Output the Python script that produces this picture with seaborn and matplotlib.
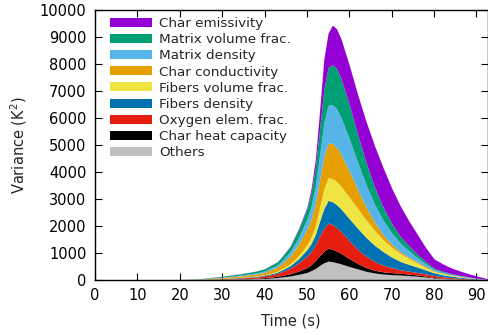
import numpy as np
import pandas as pd
import matplotlib
matplotlib.use("Agg")
import matplotlib.pyplot as plt
import seaborn as sns

# Time grid (s)
time = [0, 20, 25, 30, 35, 38, 40, 43, 44, 46, 48, 50, 51, 52, 53, 54, 55, 56,
        57, 58, 60, 62, 64, 66, 68, 70, 72, 74, 76, 78, 80, 82, 84, 86, 88, 90, 92.6]

# Individual contributions to the variance (K^2), bottom to top
others = [0, 5, 10, 25, 40, 50, 60, 90, 110, 150, 210, 280, 350, 430, 540, 640, 700, 680,
          640, 600, 500, 410, 320, 260, 220, 200, 185, 165, 140, 110, 75, 55, 40, 30, 20, 12, 4]
char_heat_capacity = [0, 1, 2, 6, 12, 18, 25, 45, 55, 80, 120, 180, 220, 290, 370, 430, 480, 460,
                      430, 390, 290, 200, 140, 100, 80, 70, 65, 55, 45, 32, 20, 14, 10, 7, 5, 3, 1]
oxygen_elem_frac = [0, 2, 5, 15, 30, 45, 60, 110, 140, 200, 300, 420, 480, 580, 720, 850, 930, 910,
                    870, 810, 660, 520, 410, 320, 250, 180, 130, 110, 95, 85, 70, 50, 38, 28, 18, 10, 3]
fibers_density = [0, 2, 5, 10, 18, 24, 30, 50, 65, 100, 160, 250, 310, 400, 560, 740, 840, 850,
                  850, 840, 820, 780, 700, 600, 500, 400, 310, 250, 200, 150, 100, 75, 55, 40, 28, 16, 5]
fibers_volume_frac = [0, 1, 2, 5, 10, 15, 20, 35, 45, 70, 110, 180, 240, 340, 520, 720, 840, 860,
                      860, 840, 800, 730, 650, 550, 440, 360, 300, 220, 150, 90, 50, 38, 28, 20, 13, 8, 2]
char_conductivity = [0, 4, 12, 30, 55, 70, 90, 150, 190, 280, 420, 580, 670, 800, 1000, 1200, 1280, 1300,
                     1260, 1180, 960, 700, 470, 300, 180, 110, 65, 50, 40, 35, 30, 22, 15, 11, 8, 5, 2]
matrix_density = [0, 2, 6, 15, 30, 40, 50, 80, 100, 160, 250, 370, 480, 650, 950, 1250, 1400, 1440,
                  1430, 1370, 1200, 1000, 820, 660, 540, 420, 320, 240, 160, 100, 50, 38, 27, 20, 13, 8, 2]
matrix_volume_frac = [0, 3, 10, 30, 50, 65, 80, 110, 135, 190, 290, 380, 510, 680, 950, 1260, 1400, 1480,
                      1500, 1450, 1270, 1030, 820, 640, 480, 360, 250, 190, 130, 85, 45, 35, 27, 20, 13, 8, 2]
char_emissivity = [0, 0, 2, 4, 5, 5, 5, 10, 10, 20, 40, 60, 140, 330, 690, 1110, 1280, 1460,
                   1460, 1470, 1450, 1480, 1520, 1520, 1460, 1300, 1125, 920, 740, 513, 340, 273, 210, 164, 122, 80, 29]

labels = ["Others", "Char heat capacity", "Oxygen elem. frac.", "Fibers density",
          "Fibers volume frac.", "Char conductivity", "Matrix density",
          "Matrix volume frac.", "Char emissivity"]
colors = ["#c0c0c0", "#000000", "#e51e10", "#0072b2", "#f0e442", "#e69f00",
          "#56b4e9", "#009e73", "#9400d3"]

df = pd.DataFrame({
    "time": time,
    labels[0]: others, labels[1]: char_heat_capacity, labels[2]: oxygen_elem_frac,
    labels[3]: fibers_density, labels[4]: fibers_volume_frac, labels[5]: char_conductivity,
    labels[6]: matrix_density, labels[7]: matrix_volume_frac, labels[8]: char_emissivity,
})

sns.set_style("ticks")
plt.rcParams["font.family"] = ["DejaVu Sans"]
plt.rcParams["font.size"] = 10.5

fig = plt.figure(figsize=(4.88, 3.35), dpi=100)
ax = fig.add_axes([95 / 488, 1 - 280 / 335, (487.5 - 95) / 488, (280 - 10) / 335])

ax.stackplot(df["time"], *[df[l] for l in labels], colors=colors,
             labels=labels, linewidth=0, antialiased=True)

ax.set_xlim(0, 92.6)
ax.set_ylim(0, 10000)
ax.set_xticks(range(0, 91, 10))
ax.set_yticks(range(0, 10001, 1000))
ax.tick_params(direction="in", top=True, right=True, length=5, width=0.8,
               labelsize=10.5, colors="black", pad=6)
for s in ax.spines.values():
    s.set_linewidth(1.0)
    s.set_color("black")
    s.set_visible(True)

ax.set_xlabel("Time (s)", fontsize=10.5, labelpad=7)
ax.set_ylabel("Variance (K$^2$)", fontsize=10.5, labelpad=8)

handles, labs = ax.get_legend_handles_labels()
leg = ax.legend(handles[::-1], labs[::-1], loc="upper left", frameon=False,
                fontsize=9.7, handlelength=3.1, handleheight=0.65,
                labelspacing=0.235, borderaxespad=0.0, borderpad=0.0,
                handletextpad=0.55, bbox_to_anchor=(0.038, 0.974))

fig.savefig("out.png", dpi=100)
